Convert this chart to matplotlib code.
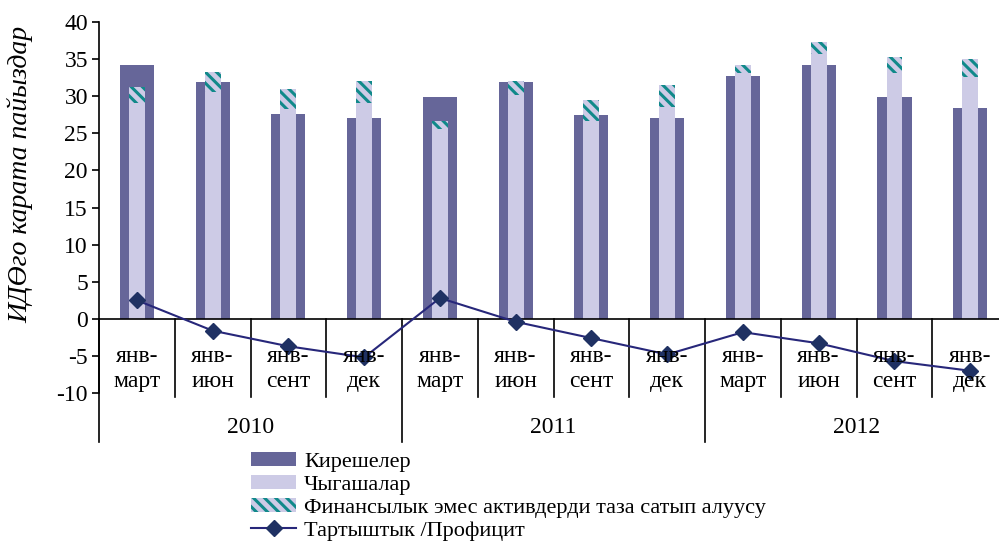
import numpy as np
import matplotlib
matplotlib.use("Agg")
import matplotlib.pyplot as plt
from matplotlib.patches import Patch
from matplotlib.lines import Line2D

plt.rcParams['font.family'] = ['Liberation Serif', 'DejaVu Serif']
plt.rcParams['hatch.linewidth'] = 2.2
plt.rcParams['axes.unicode_minus'] = False

years = ['2010', '2011', '2012']
periods = ['янв-\nмарт', 'янв-\nиюн', 'янв-\nсент', 'янв-\nдек']

revenue = [34.2, 31.9, 27.6, 27.1, 29.9, 31.9, 27.4, 27.1, 32.7, 34.2, 29.9, 28.4]
expense = [29.1, 30.6, 28.3, 29.1, 25.6, 30.1, 26.6, 28.5, 33.1, 35.7, 33.1, 32.6]
net_acq = [2.1, 2.6, 2.7, 2.9, 1.0, 1.9, 2.9, 3.0, 1.1, 1.6, 2.2, 2.4]
balance = [2.5, -1.6, -3.7, -5.2, 2.8, -0.4, -2.6, -4.8, -1.8, -3.3, -5.7, -7.0]

c_rev = '#666699'
c_exp = '#cdcbe6'
c_hatch = '#10898a'
c_line = '#27277a'
c_marker = '#1f3163'

fig = plt.figure(figsize=(9.99, 5.43), dpi=100)
ax = fig.add_axes([0.0991, 0.2762, 0.91, 0.6833])

x = np.arange(len(revenue))
ax.bar(x, revenue, width=0.45, color=c_rev, zorder=2)
ax.bar(x, expense, width=0.21, color=c_exp, zorder=3)
ax.bar(x, net_acq, width=0.21, bottom=expense, facecolor=c_exp,
       edgecolor=c_hatch, linewidth=0, hatch='\\\\\\', zorder=3)
ax.plot(x, balance, color=c_line, lw=1.5, marker='D', markersize=8,
        markerfacecolor=c_marker, markeredgecolor=c_marker, zorder=5)

ax.set_xlim(-0.5, len(revenue) - 0.5)
ax.set_ylim(-10, 40)
ax.set_yticks(np.arange(-10, 41, 5))
ax.tick_params(axis='y', direction='out', length=5, width=1.2, labelsize=17, pad=3)
ax.set_xticks([])
for s in ['top', 'right', 'bottom']:
    ax.spines[s].set_visible(False)
ax.spines['left'].set_linewidth(1.2)
ax.axhline(0, color='black', lw=1.2, zorder=4)

# category separators and labels
for i in range(len(revenue) + 1):
    bottom = -16.6 if i % 4 == 0 else -10.5
    ax.plot([i - 0.5, i - 0.5], [0, bottom], color='black', lw=1.2, clip_on=False)
for i in range(len(revenue)):
    ax.text(i, -6.7, periods[i % 4], ha='center', va='center', fontsize=17,
            linespacing=1.25, zorder=6)
for j, yr in enumerate(years):
    ax.text(j * 4 + 1.5, -14.6, yr, ha='center', va='center', fontsize=17, clip_on=False)

ax.set_ylabel('ИДӨго карата пайыздар', fontsize=20, style='italic')
ax.yaxis.set_label_coords(-0.072, 0.59)

handles = [
    Patch(facecolor=c_rev, label='Кирешелер'),
    Patch(facecolor=c_exp, label='Чыгашалар'),
    Patch(facecolor=c_exp, edgecolor=c_hatch, linewidth=0, hatch='\\\\\\',
          label='Финансылык эмес активдерди таза сатып алуусу'),
    Line2D([0], [0], color=c_line, lw=1.5, marker='D', markersize=8,
           markerfacecolor=c_marker, markeredgecolor=c_marker,
           label='Тартыштык /Профицит'),
]
fig.legend(handles=handles, loc='upper left', bbox_to_anchor=(0.251, 0.168),
           frameon=False, fontsize=16, handlelength=2.05, handleheight=0.6,
           handletextpad=0.35, labelspacing=0.14, borderpad=0, borderaxespad=0)

fig.savefig('out.png', dpi=100)
